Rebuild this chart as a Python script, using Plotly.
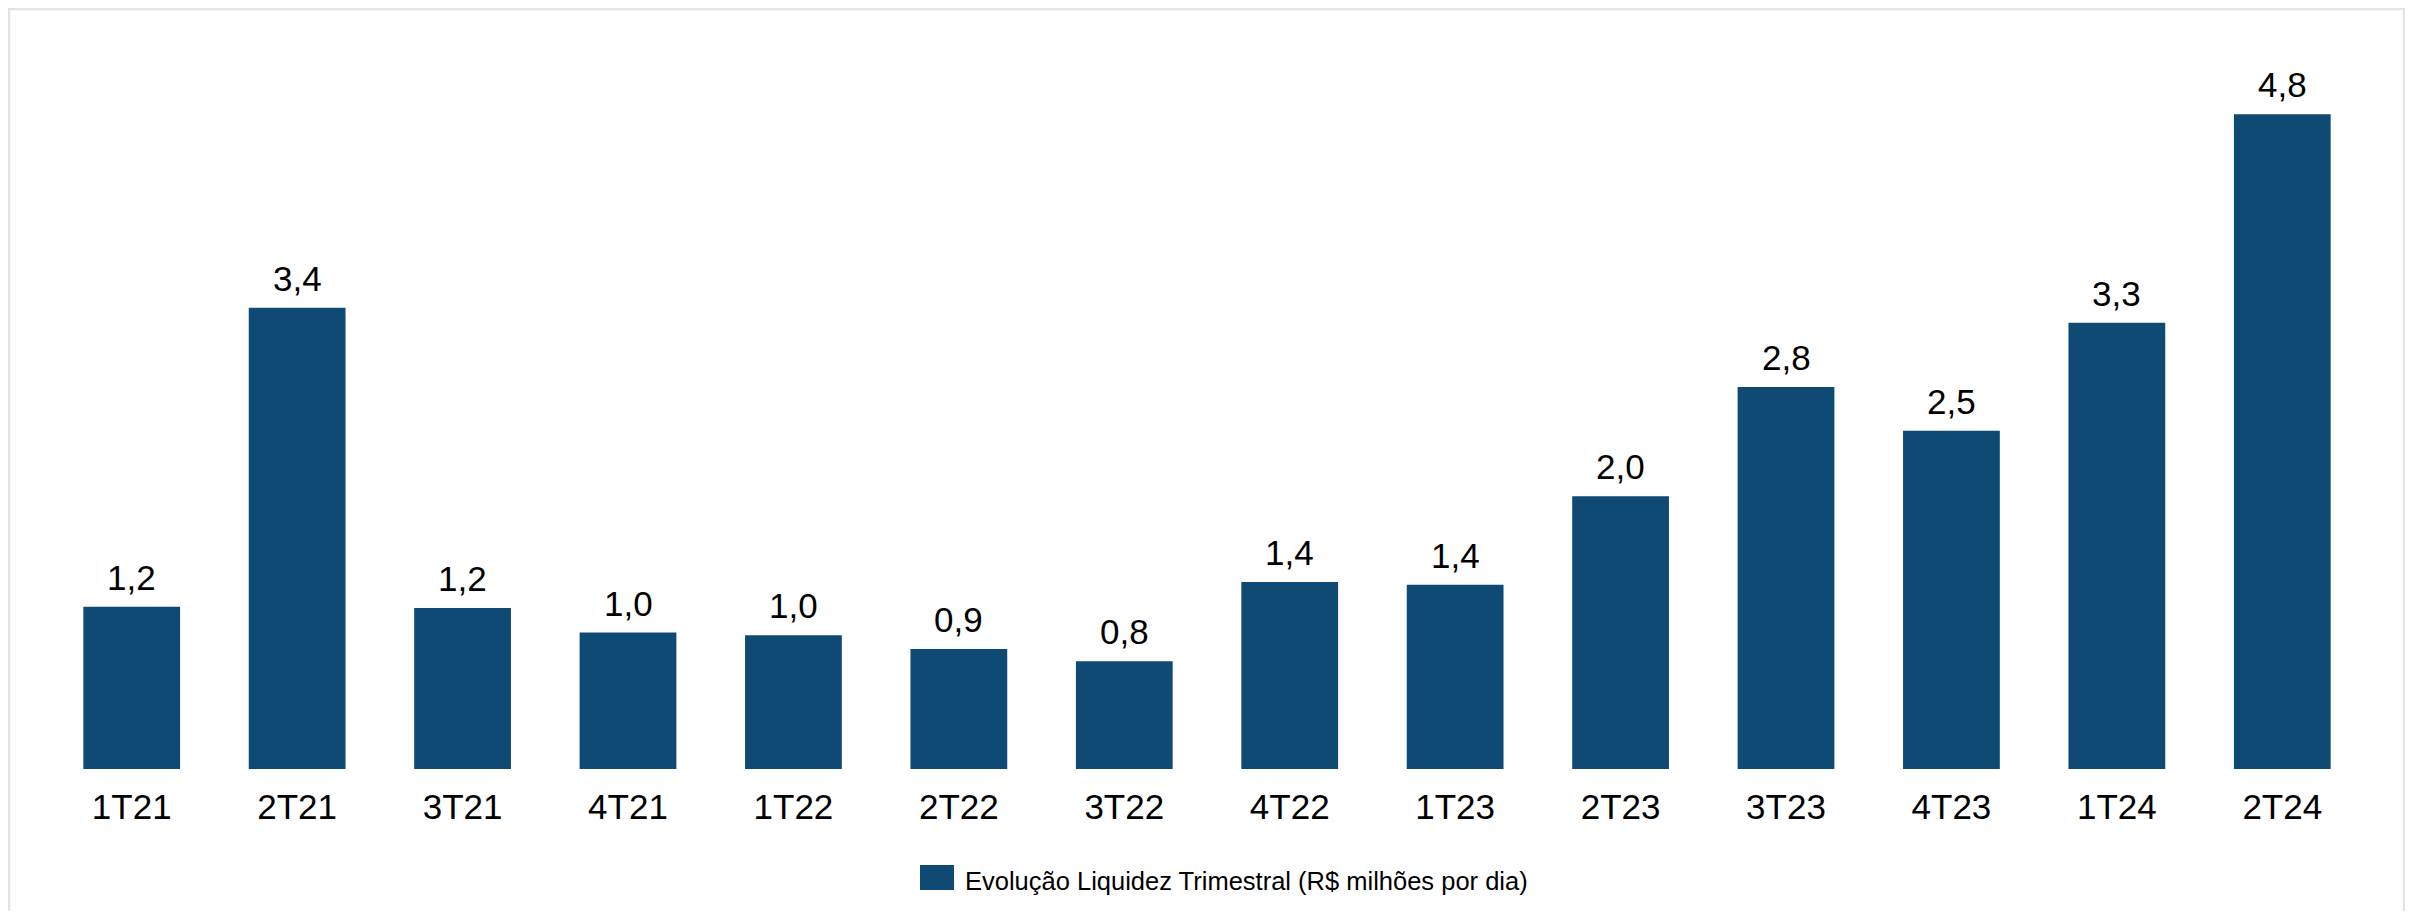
import plotly.graph_objects as go

categories = ["1T21", "2T21", "3T21", "4T21", "1T22", "2T22", "3T22",
              "4T22", "1T23", "2T23", "3T23", "4T23", "1T24", "2T24"]
values = [1.19, 3.38, 1.18, 1.00, 0.98, 0.88, 0.79,
          1.37, 1.35, 2.00, 2.80, 2.48, 3.27, 4.80]
labels = ["1,2", "3,4", "1,2", "1,0", "1,0", "0,9", "0,8",
          "1,4", "1,4", "2,0", "2,8", "2,5", "3,3", "4,8"]
series_name = "Evolução Liquidez Trimestral (R$ milhões por dia)"

BAR_COLOR = "#0f4a75"
FONT = "Liberation Sans, Arial, sans-serif"

# page has an 8px body margin -> figure sized to fit the window exactly
W, H = 2397, 903
ML, MR, MT, MB = 41, 40, 12, 142
PW = W - ML - MR
PH = H - MT - MB


def px_to_paper_x(px):
    return (px - ML) / PW


def px_to_paper_y(py):
    return (H - MB - py) / PH


fig = go.Figure()
fig.add_trace(go.Bar(
    x=categories, y=values, name=series_name,
    marker=dict(color=BAR_COLOR, line=dict(width=0)),
    showlegend=False, hoverinfo="x+y",
))

for c, v, t in zip(categories, values, labels):
    fig.add_annotation(x=c, y=v, text=t, showarrow=False,
                       yanchor="bottom", yshift=8,
                       font=dict(family=FONT, size=35, color="#000000"))

# legend-like key
fig.add_shape(type="rect", xref="paper", yref="paper",
              x0=px_to_paper_x(912), x1=px_to_paper_x(946),
              y0=px_to_paper_y(882), y1=px_to_paper_y(857),
              fillcolor=BAR_COLOR, line=dict(width=0))
fig.add_annotation(xref="paper", yref="paper",
                   x=px_to_paper_x(955), y=px_to_paper_y(873),
                   xanchor="left", yanchor="middle", showarrow=False,
                   text=series_name,
                   font=dict(family=FONT, size=25.5, color="#000000"))

# outer frame
fig.add_shape(type="rect", xref="paper", yref="paper",
              x0=px_to_paper_x(1), x1=px_to_paper_x(2396),
              y0=px_to_paper_y(930), y1=px_to_paper_y(1),
              line=dict(color="#e4e4e4", width=2.5),
              fillcolor="rgba(0,0,0,0)", layer="below")

fig.update_layout(
    width=W, height=H,
    margin=dict(l=ML, r=MR, t=MT, b=MB, pad=0),
    paper_bgcolor="#ffffff", plot_bgcolor="#ffffff",
    bargap=0.415,
    font=dict(family=FONT, color="#000000"),
    xaxis=dict(showgrid=False, showline=False, zeroline=False,
               ticks="", ticklabelstandoff=14,
               tickfont=dict(family=FONT, size=35, color="#000000")),
    yaxis=dict(range=[0, 5.49], visible=False, showgrid=False,
               zeroline=False),
)

fig.write_html("out.html")
